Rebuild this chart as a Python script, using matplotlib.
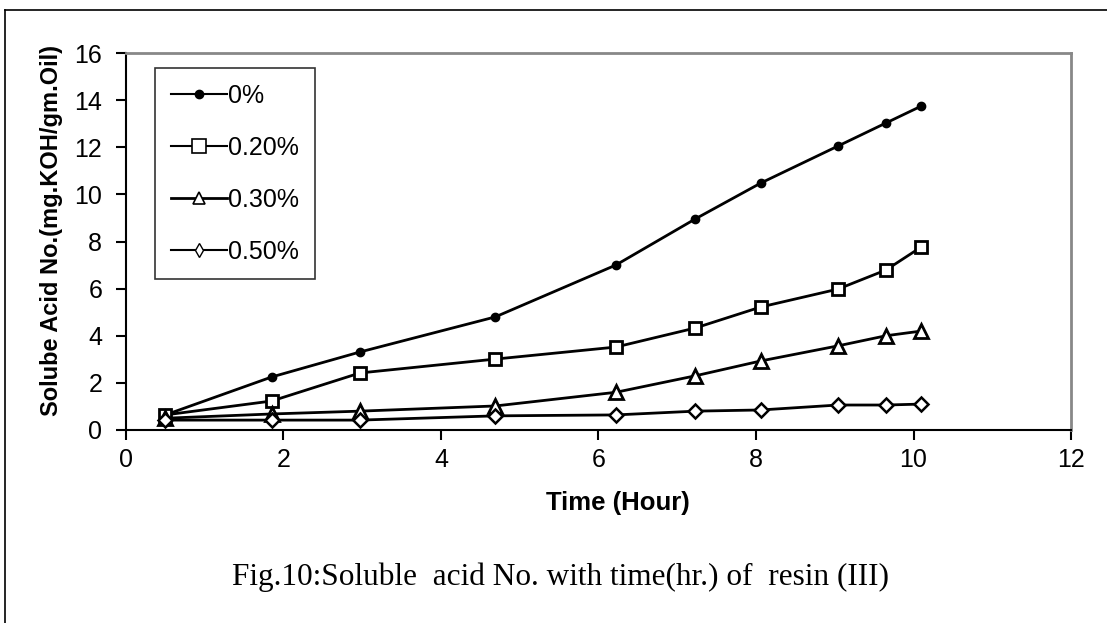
import matplotlib
matplotlib.use("Agg")
import matplotlib.pyplot as plt
from matplotlib.lines import Line2D

plt.rcParams["font.family"] = ["Liberation Sans", "DejaVu Sans"]

time_hr = [0.5, 1.85, 2.97, 4.69, 6.22, 7.23, 8.06, 9.04, 9.65, 10.1]
acid_0 = [0.64, 2.25, 3.31, 4.8, 7.0, 8.96, 10.48, 12.05, 13.03, 13.75]
acid_020 = [0.64, 1.23, 2.42, 3.01, 3.52, 4.33, 5.22, 5.98, 6.79, 7.77]
acid_030 = [0.5, 0.68, 0.8, 1.02, 1.6, 2.3, 2.93, 3.57, 4.0, 4.2]
acid_050 = [0.42, 0.42, 0.42, 0.6, 0.64, 0.8, 0.85, 1.06, 1.06, 1.1]
labels = ["0%", "0.20%", "0.30%", "0.50%"]

fig = plt.figure(figsize=(11.07, 6.23), dpi=100)
ax = fig.add_axes([0.1138, 0.3098, 0.8537, 0.6051])

styles = [
    dict(marker="o", ms=6, mfc="black", mec="black", mew=1),
    dict(marker="s", ms=9, mfc="white", mec="black", mew=2),
    dict(marker="^", ms=9.5, mfc="white", mec="black", mew=2),
    dict(marker="D", ms=7, mfc="white", mec="black", mew=1.8),
]
for ys, st in zip([acid_0, acid_020, acid_030, acid_050], styles):
    ax.plot(time_hr, ys, color="black", lw=2, **st)

ax.set_xlim(0, 12)
ax.set_ylim(0, 16)
ax.set_xticks(range(0, 13, 2))
ax.set_yticks(range(0, 17, 2))
ax.tick_params(direction="out", length=7, width=1.5, labelsize=18, colors="black")
ax.tick_params(axis="y", pad=10)
ax.tick_params(axis="x", pad=6)
for s in ["top", "right"]:
    ax.spines[s].set_color("#888888")
    ax.spines[s].set_linewidth(2)
for s in ["left", "bottom"]:
    ax.spines[s].set_linewidth(1.5)

ax.set_xlabel("Time (Hour)", fontsize=18.5, fontweight="bold", labelpad=14, x=0.52)
ax.set_ylabel("Solube Acid No.(mg.KOH/gm.Oil)", fontsize=17, fontweight="bold",
              labelpad=8, y=0.53)

handles = [
    Line2D([], [], color="black", lw=1.5, marker="o", ms=6, mfc="black", mec="black"),
    Line2D([], [], color="black", lw=1.5, marker="s", ms=10, mfc="white", mec="black", mew=1.2),
    Line2D([], [], color="black", lw=2, marker="^", ms=8, mfc="white", mec="black", mew=1.2),
    Line2D([], [], color="black", lw=1.5, marker="d", ms=7, mfc="white", mec="black", mew=1),
]
leg = ax.legend(handles, labels, loc="upper left", bbox_to_anchor=(0.031, 0.96),
                fontsize=18, frameon=True, fancybox=False, edgecolor="black",
                labelspacing=1.12, handlelength=2.25, handletextpad=0.05,
                borderpad=0.62, borderaxespad=0)
leg.get_frame().set_linewidth(1.2)

fig.text(0.506, 0.074, "Fig.10:Soluble  acid No. with time(hr.) of  resin (III)",
         ha="center", va="center", fontsize=22.5, family=["Liberation Serif", "DejaVu Serif"])

fig.add_artist(Line2D([5 / 1107, 5 / 1107], [0, 1 - 10 / 623], color="black", lw=1.2,
                      transform=fig.transFigure))
fig.add_artist(Line2D([5 / 1107, 1], [1 - 10 / 623, 1 - 10 / 623], color="black", lw=1.2,
                      transform=fig.transFigure))

fig.savefig("out.png", dpi=100)
